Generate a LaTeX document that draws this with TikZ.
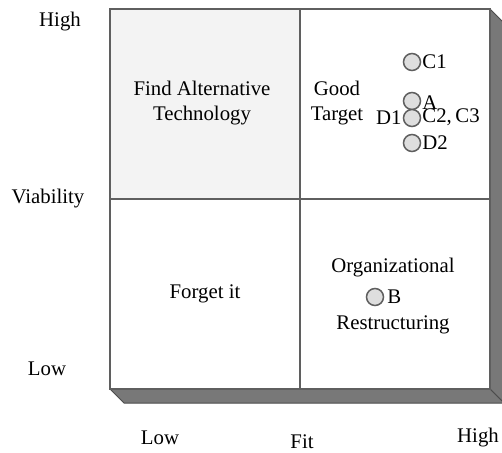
\documentclass[tikz,border=0pt]{standalone}
\usepackage{fontspec}
\setmainfont{Liberation Serif}
\definecolor{frame}{RGB}{95,95,95}
\definecolor{side}{RGB}{120,120,120}
\definecolor{lightq}{RGB}{243,243,243}
\definecolor{dotfill}{RGB}{222,222,222}
\begin{document}
\begin{tikzpicture}[x=1pt,y=-1pt,
  lbl/.style={font=\fontsize{20.8}{25}\selectfont, inner sep=0pt, align=center},
  pt/.style={circle, draw=frame, fill=dotfill, line width=1.5pt, minimum size=17pt, inner sep=0pt},
  edge/.style={draw=frame, line width=1.8pt}]
\useasboundingbox (0,0) rectangle (502,452);
% depth sides
\filldraw[fill=side, draw=frame!80!black, line width=1pt, line join=round]
  (490,9) -- (504,23) -- (504,403) -- (490,389) -- cycle;
\filldraw[fill=side, draw=frame!80!black, line width=1pt, line join=round]
  (110,389) -- (124,403) -- (504,403) -- (490,389) -- cycle;
% front face
\fill[white] (110,9) rectangle (490,389);
\fill[lightq] (110,9) rectangle (300,199);
\draw[edge] (110,9) rectangle (490,389);
\draw[edge] (300,9) -- (300,389);
\draw[edge] (110,199) -- (490,199);
% axis labels
\node[lbl] (vh) at (60,22) {High};
\node[lbl] (vv) at (48,199) {Viability};
\node[lbl] (vl) at (47,369) {Low};
\node[lbl] (fl) at (160,438) {Low};
\node[lbl] (ff) at (302,442) {Fit};
\node[lbl] (fh) at (478,438) {High};
% quadrant labels
\node[lbl] (q1) at (202,103) {Find Alternative\\Technology};
\node[lbl] (q2) at (337,103) {Good\\Target};
\node[lbl] (q3) at (205,294) {Forget it};
\node[lbl] (q4a) at (393,268) {Organizational};
\node[lbl] (q4b) at (393,325) {Restructuring};
% points
\node[pt] (c1) at (412,62) {};
\node[lbl, anchor=west] (c1l) at ([xshift=1pt]c1.east) {C1};
\node[pt] (a) at (412,101) {};
\node[lbl, anchor=west, text depth=0pt] (al) at ([xshift=1pt,yshift=-2pt]a.east) {A};
\node[pt] (c2) at (412,118) {};
\node[lbl, anchor=west, text height=12pt] (c2l) at ([xshift=1pt]c2.east) {C2,\,C3};
\node[lbl, anchor=east] (d1l) at ([xshift=-1pt]c2.west) {D1};
\node[pt] (d2) at (412,143) {};
\node[lbl, anchor=west] (d2l) at ([xshift=1pt]d2.east) {D2};
\node[pt] (b) at (375,297) {};
\node[lbl, anchor=west] (bl) at ([xshift=3pt]b.east) {B};
\end{tikzpicture}
\end{document}
